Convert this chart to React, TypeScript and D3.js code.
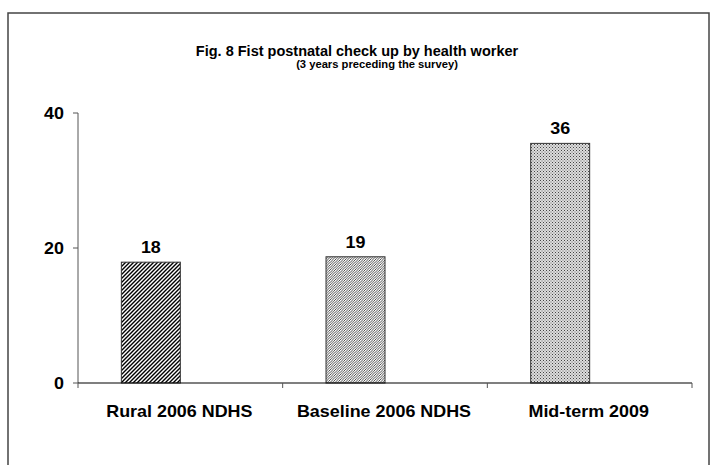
import * as React from "react";
import * as d3 from "d3";

// chart data
const categories = ["Rural 2006 NDHS", "Baseline 2006 NDHS", "Mid-term 2009"];
const values = [17.9, 18.7, 35.5];
const valueLabels = ["18", "19", "36"];
const patterns = ["hatchWide", "hatchFine", "dots"];
const yTicks = [0, 20, 40];
// second (empty) slot per category, like the excel original
const slots = ["value", "blank"];

const W = 711;
const H = 465;
const font = "Arial, 'Liberation Sans', sans-serif";

// bold text, slightly stretched sideways like the original picture
function Txt({ x, y, size, anchor = "middle", sx = 1.12, children }: any) {
  return (
    <text
      transform={`translate(${x},${y}) scale(${sx},1)`}
      textAnchor={anchor}
      fontFamily={font}
      fontWeight="bold"
      fontSize={size}
    >
      {children}
    </text>
  );
}

export default function App() {
  // plot area
  const left = 78, right = 692, top = 113, bottom = 383;

  const x0 = d3.scaleBand().domain(categories).range([left, right]).paddingInner(0);
  const x1 = d3.scaleBand().domain(slots).range([0, x0.bandwidth()]).paddingInner(0).paddingOuter(0.735);
  const y = d3.scaleLinear().domain([0, 40]).range([bottom, top]);

  const boundaries = categories.map(c => x0(c)).concat([right]);

  return (
    <svg width={W} height={H} style={{ position: "absolute", left: 0, top: 0, background: "#fff" }}>
      <defs>
        <pattern id="hatchWide" patternUnits="userSpaceOnUse" width="4" height="4">
          <rect width="4" height="4" fill="#fff" />
          <path d="M-1,1 l2,-2 M0,4 l4,-4 M3,5 l2,-2" stroke="#000" strokeWidth="1.4" />
        </pattern>
        <pattern id="hatchFine" patternUnits="userSpaceOnUse" width="2.5" height="2.5">
          <rect width="2.5" height="2.5" fill="#fff" />
          <path d="M-0.5,0.5 l1,-1 M0,2.5 l2.5,-2.5 M2,3 l1,-1" stroke="#222" strokeWidth="0.8" />
        </pattern>
        <pattern id="dots" patternUnits="userSpaceOnUse" width="3" height="3">
          <rect width="3" height="3" fill="#ddd" />
          <rect x="0" y="0" width="1" height="1" fill="#444" />
          <rect x="1.5" y="1.5" width="1" height="1" fill="#666" />
        </pattern>
      </defs>

      {/* outer frame */}
      <rect x={8} y={13} width={701} height={470} fill="none" stroke="#444" strokeWidth={1.5} />

      {/* titles */}
      <Txt x={357} y={56} size={14.5} sx={1}>
        Fig. 8 Fist postnatal check up by health worker
      </Txt>
      <Txt x={377} y={68} size={10} sx={1.12}>
        (3 years preceding the survey)
      </Txt>

      {/* y axis */}
      <line x1={left} x2={left} y1={top} y2={bottom} stroke="#555" strokeWidth={1} />
      {yTicks.map(t => (
        <g key={t}>
          <line x1={left - 5} x2={left} y1={y(t)} y2={y(t)} stroke="#555" />
          <Txt x={left - 14} y={y(t) + 6} size={16} anchor="end">
            {t}
          </Txt>
        </g>
      ))}

      {/* bars */}
      {categories.map((c, i) => {
        const bx = (x0(c) as number) + (x1("value") as number);
        const by = y(values[i]);
        return (
          <g key={c}>
            <rect
              x={bx}
              y={by}
              width={x1.bandwidth()}
              height={bottom - by}
              fill={`url(#${patterns[i]})`}
              stroke="#333"
              strokeWidth={1}
            />
            <Txt x={bx + x1.bandwidth() / 2} y={by - 9} size={16}>
              {valueLabels[i]}
            </Txt>
          </g>
        );
      })}

      {/* x axis */}
      <line x1={left} x2={right} y1={bottom} y2={bottom} stroke="#000" strokeWidth={1.2} />
      {boundaries.map((b, i) => (
        <line key={i} x1={b} x2={b} y1={bottom} y2={bottom + 5} stroke="#555" />
      ))}
      {categories.map(c => (
        <Txt key={c} x={(x0(c) as number) + x0.bandwidth() / 2 - 1} y={417} size={16}>
          {c}
        </Txt>
      ))}
    </svg>
  );
}
